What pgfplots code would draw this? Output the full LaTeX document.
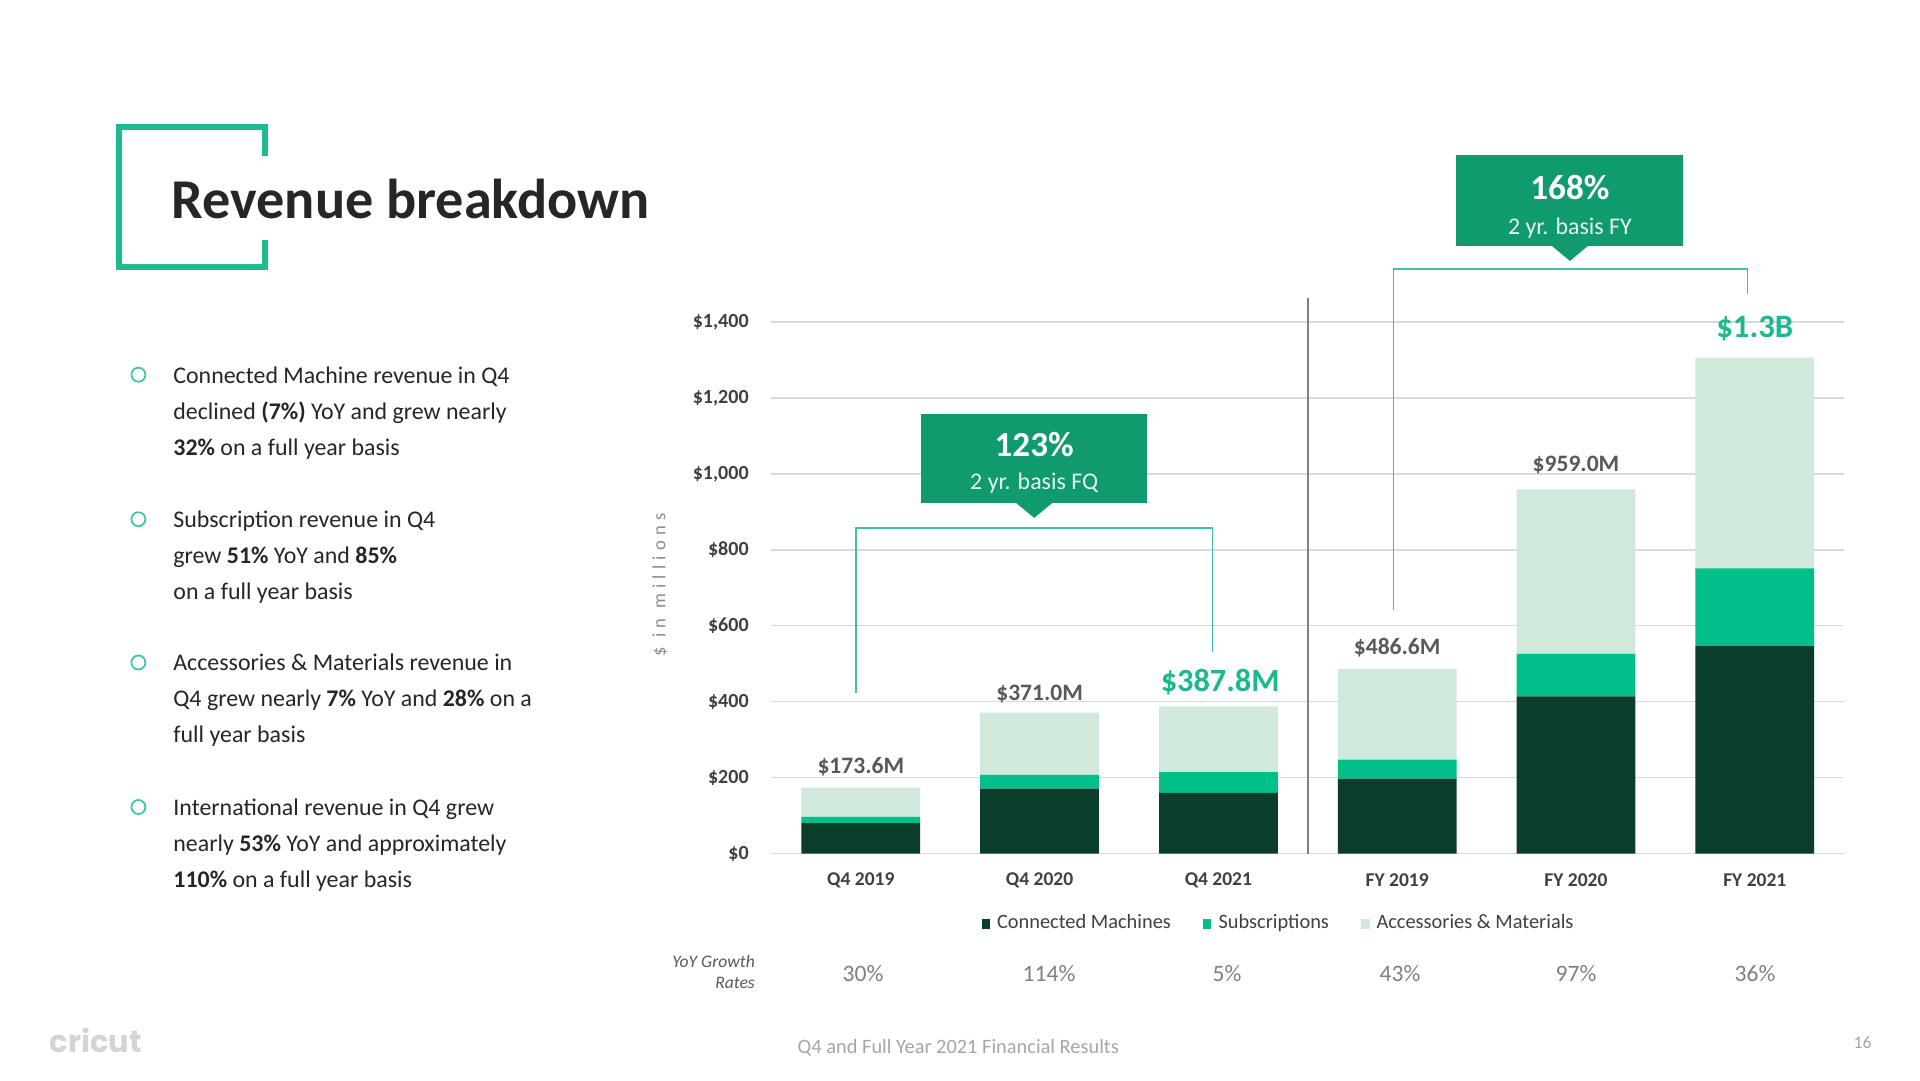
\documentclass[border=0pt]{standalone}
\usepackage{fontspec}
\setmainfont{Carlito}
\newfontfamily\logofont{Poppins}
\usepackage{pgfplots}
\usepackage{pgfplotstable}
\pgfplotsset{compat=1.18}
\definecolor{cmDark}{HTML}{0B3D2B}
\definecolor{cmSub}{HTML}{00BF8A}
\definecolor{cmAcc}{HTML}{D1E9DA}
\definecolor{boxG}{HTML}{0F9B6D}
\definecolor{brk}{HTML}{3CC3A0}
\definecolor{ttl}{HTML}{1EBB91}
\definecolor{labTeal}{HTML}{1DB98E}
\definecolor{txt}{HTML}{262626}
\definecolor{gtxt}{HTML}{595959}
\definecolor{dtxt}{HTML}{404040}
\definecolor{lgray}{HTML}{A6A6A6}
\definecolor{gridc}{HTML}{D9D9D9}
\definecolor{boxTxt}{HTML}{E6F5EE}
\pgfplotstableread{
x cm sub acc
0 80 16.6 77
1 171 36 164
2 160 54.6 173.2
3 197 50 239.6
4 414 112 433
5 546 205 555.3
}\rev
\newcommand{\bt}{\fontsize{6.8pt}{10pt}\selectfont}
\begin{document}
\begin{tikzpicture}[x=0.1mm,y=0.1mm]
\fill[white] (0,0) rectangle (1920,1080);
% title bracket
\draw[ttl, line width=0.6mm, line join=miter] (265,924) -- (265,953) -- (119,953) -- (119,813) -- (265,813) -- (265,840);
\node[anchor=base west, inner sep=0, text=txt, font=\fontsize{16pt}{18pt}\selectfont\bfseries] at (171,862) {Revenue breakdown};
% bullets
\foreach \yy in {705.3,560.8,417.5,273} {\draw[brk, line width=0.17mm] (138.4,\yy) circle (0.7mm);}
\tikzset{bl/.style={anchor=base west, inner sep=0, text=txt, font=\bt}}
\node[bl] at (172.7,697) {Connected Machine revenue in Q4};
\node[bl] at (172.7,661) {declined \textbf{(7\%)} YoY and grew nearly};
\node[bl] at (172.7,625) {\textbf{32\%} on a full year basis};
\node[bl] at (172.7,553) {Subscription revenue in Q4};
\node[bl] at (172.7,517) {grew \textbf{51\%} YoY and \textbf{85\%}};
\node[bl] at (172.7,481) {on a full year basis};
\node[bl] at (172.7,409.5) {Accessories \& Materials revenue in};
\node[bl] at (172.7,373.4) {Q4 grew nearly \textbf{7\%} YoY and \textbf{28\%} on a};
\node[bl] at (172.7,337.3) {full year basis};
\node[bl] at (172.7,265) {International revenue in Q4 grew};
\node[bl] at (172.7,229) {nearly \textbf{53\%} YoY and approximately};
\node[bl] at (172.7,193) {\textbf{110\%} on a full year basis};
% y label
\node[rotate=90, text=gray!90, font=\fontsize{5.3pt}{6pt}\selectfont\addfontfeature{LetterSpace=28}] at (660,495) {\$ in millions};
% YoY growth
\node[anchor=east, inner sep=0, text=gtxt, font=\fontsize{5pt}{6pt}\selectfont\itshape] at (755.5,119) {YoY Growth};
\node[anchor=east, inner sep=0, text=gtxt, font=\fontsize{5pt}{6pt}\selectfont\itshape] at (755.5,97) {Rates};
\foreach \xx/\lab in {863/30\%,1049/114\%,1227/5\%,1400/43\%,1576/97\%,1755/36\%}
  {\node[text=gray, font=\fontsize{6.7pt}{7pt}\selectfont] at (\xx,106.5) {\lab};}
% footer
\node[anchor=west, inner sep=0, text=lgray, font=\fontsize{5.8pt}{6pt}\selectfont] at (797,32) {Q4 and Full Year 2021 Financial Results};
\node[text=lgray, font=\fontsize{5pt}{6pt}\selectfont] at (1862.5,37) {16};
\node[anchor=west, inner sep=0, text=black!17, font=\logofont\fontsize{8.7pt}{9pt}\selectfont\bfseries] at (49,40) {cricut};
\begin{axis}[
  at={(77.14mm,22.65mm)}, anchor=south west,
  scale only axis, width=107.28mm, height=53.15mm,
  xmin=-0.5, xmax=5.5, ymin=0, ymax=1400, clip=false,
  ybar stacked, bar width=0.664,
  axis line style={draw=none}, tick style={draw=none},
  ymajorgrids, major grid style={draw=gridc, line width=0.15mm},
  ytick={0,200,...,1400},
  yticklabels={\$0,\$200,\$400,\$600,\$800,\$1{,}000,\$1{,}200,\$1{,}400},
  yticklabel style={inner sep=0pt, anchor=east, xshift=-2.2mm, text=dtxt, font=\fontsize{5.7pt}{6pt}\selectfont\bfseries},
  xtick={0,...,5},
  xticklabels={Q4 2019,Q4 2020,Q4 2021,FY 2019,FY 2020,FY 2021},
  xticklabel style={inner sep=0pt, anchor=center, yshift=-2.65mm, text=dtxt, font=\fontsize{5.55pt}{6pt}\selectfont\bfseries},
  /pgf/number format/assume math mode=true,
  legend style={at={(0.475,-0.1335)}, anchor=center, draw=none, fill=none,
    legend columns=3, font=\fontsize{5.8pt}{6pt}\selectfont, text=dtxt,
    /tikz/every even column/.append style={column sep=2.5mm},
    inner sep=0pt},
  legend cell align=left,
]
\addplot[fill=cmDark, draw=none, legend image code/.code={\fill[cmDark] (0mm,-0.45mm) rectangle (0.85mm,0.5mm);}] table[x=x,y=cm] {\rev};
\addlegendentry{Connected Machines}
\addplot[fill=cmSub, draw=none, legend image code/.code={\fill[cmSub] (0mm,-0.45mm) rectangle (0.85mm,0.5mm);}] table[x=x,y=sub] {\rev};
\addlegendentry{Subscriptions}
\addplot[fill=cmAcc, draw=none, legend image code/.code={\fill[cmAcc] (0mm,-0.45mm) rectangle (0.85mm,0.5mm);}] table[x=x,y=acc] {\rev};
\addlegendentry{Accessories \& Materials}
% separator
\draw[gray, line width=0.2mm] (axis cs:2.5,0) -- (axis cs:2.5,1464);
% totals
\tikzset{tl/.style={text=gtxt, font=\fontsize{6.7pt}{7pt}\selectfont\bfseries}}
\node[tl] at (axis cs:0,229) {\$173.6M};
\node[tl] at (axis cs:1,419) {\$371.0M};
\node[text=labTeal, font=\fontsize{9.2pt}{10pt}\selectfont\bfseries] at (axis cs:2.01,452) {\$387.8M};
\node[tl] at (axis cs:3,542) {\$486.6M};
\node[tl] at (axis cs:4,1023) {\$959.0M};
\node[text=labTeal, font=\fontsize{9.3pt}{10pt}\selectfont\bfseries] at (axis cs:5,1384) {\$1.3B};
% brackets
\draw[brk, line width=0.16mm] (axis cs:-0.027,423) -- (axis cs:-0.027,858) -- (axis cs:1.966,858) -- (axis cs:1.966,532);
\draw[brk, line width=0.16mm] (axis cs:2.979,642) -- (axis cs:2.979,1539) -- (axis cs:4.959,1539) -- (axis cs:4.959,1474);
\end{axis}
% callouts (picture coordinates)
\fill[boxG] (920.9,576.8) rectangle (1147.4,666.1);
\fill[boxG] (1015.6,577.5) -- (1034.2,562.1) -- (1052.8,577.5) -- cycle;
\node[text=white, font=\fontsize{10pt}{11pt}\selectfont\bfseries] at (1034.2,635.4) {123\%};
\node[text=boxTxt, font=\fontsize{6.8pt}{7pt}\selectfont] at (1034.2,596.4) {2 yr. basis FQ};
\fill[boxG] (1456.0,833.9) rectangle (1682.6,924.7);
\fill[boxG] (1551.3,834.6) -- (1569.9,819.1) -- (1588.5,834.6) -- cycle;
\node[text=white, font=\fontsize{10pt}{11pt}\selectfont\bfseries] at (1569.9,892.8) {168\%};
\node[text=boxTxt, font=\fontsize{6.8pt}{7pt}\selectfont] at (1569.9,852.3) {2 yr. basis FY};
\end{tikzpicture}
\end{document}
